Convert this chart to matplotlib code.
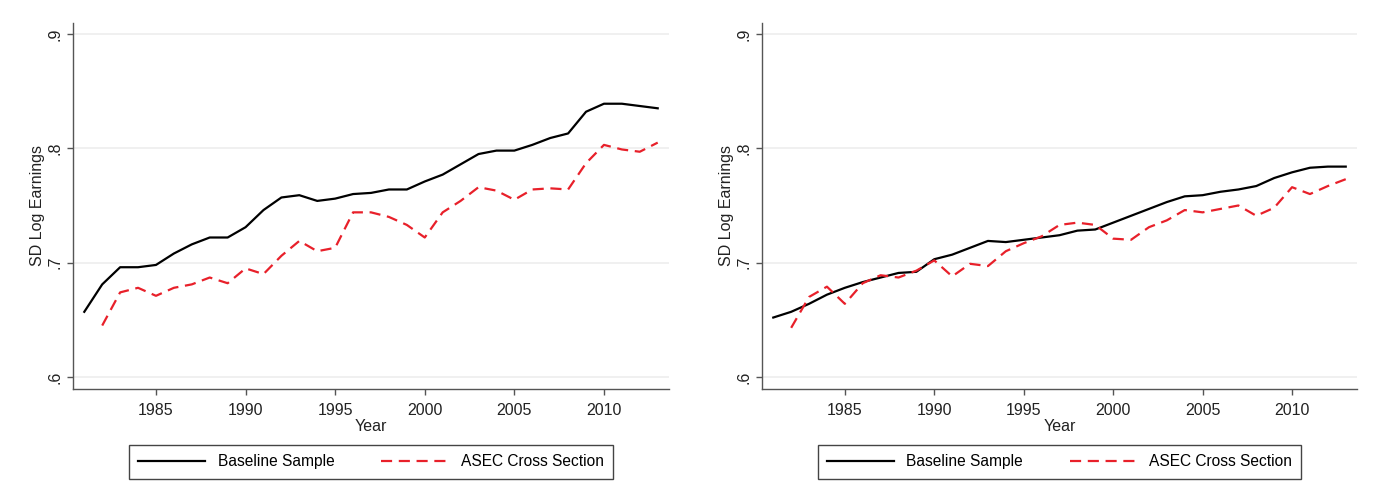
import matplotlib.pyplot as plt
import numpy as np

plt.rcParams['font.family'] = ['Liberation Sans', 'DejaVu Sans']

# years
years_base = list(range(1981, 2014))
years_asec = list(range(1982, 2014))

# left panel
left_base = [0.657, 0.681, 0.696, 0.696, 0.698, 0.708, 0.716, 0.722, 0.722, 0.731,
             0.746, 0.757, 0.759, 0.754, 0.756, 0.760, 0.761, 0.764, 0.764, 0.771,
             0.777, 0.786, 0.795, 0.798, 0.798, 0.803, 0.809, 0.813, 0.832, 0.839,
             0.839, 0.837, 0.835]
left_asec = [0.645, 0.674, 0.678, 0.671, 0.678, 0.681, 0.687, 0.682, 0.695, 0.690,
             0.706, 0.719, 0.710, 0.713, 0.744, 0.744, 0.740, 0.733, 0.722, 0.744,
             0.754, 0.766, 0.763, 0.755, 0.764, 0.765, 0.764, 0.787, 0.803, 0.799,
             0.797, 0.805]

# right panel
right_base = [0.652, 0.657, 0.664, 0.672, 0.678, 0.683, 0.687, 0.691, 0.692, 0.703,
              0.707, 0.713, 0.719, 0.718, 0.720, 0.722, 0.724, 0.728, 0.729, 0.735,
              0.741, 0.747, 0.753, 0.758, 0.759, 0.762, 0.764, 0.767, 0.774, 0.779,
              0.783, 0.784, 0.784]
right_asec = [0.643, 0.670, 0.679, 0.664, 0.682, 0.689, 0.687, 0.693, 0.702, 0.688,
              0.699, 0.697, 0.710, 0.717, 0.723, 0.733, 0.735, 0.733, 0.721, 0.720,
              0.731, 0.737, 0.746, 0.744, 0.747, 0.750, 0.741, 0.748, 0.766, 0.760,
              0.767, 0.773]

xticks = [1985, 1990, 1995, 2000, 2005, 2010]
yticks = [0.6, 0.7, 0.8, 0.9]
ytick_labels = ['.6', '.7', '.8', '.9']

W, H = 1374, 496
fig = plt.figure(figsize=(W / 100, H / 100), dpi=100)

def panel(left_px, right_px, base, asec):
    ax = fig.add_axes([left_px / W, 1 - 389 / H, (right_px - left_px) / W, (389 - 23) / H])
    ax.plot(years_base, base, color='black', lw=1.6, label='Baseline Sample')
    ax.plot(years_asec, asec, color='#e8202a', lw=1.6, dashes=(5, 3), label='ASEC Cross Section')
    ax.set_xlim(1980.37, 2013.63)
    ax.set_ylim(0.5895, 0.9096)
    ax.set_xticks(xticks)
    ax.set_yticks(yticks)
    ax.set_yticklabels(ytick_labels, rotation=90, va='center')
    ax.grid(axis='y', color='#eeeeee', lw=1.2)
    ax.set_axisbelow(True)
    for s in ['top', 'right']:
        ax.spines[s].set_visible(False)
    for s in ['left', 'bottom']:
        ax.spines[s].set_color('#555555')
        ax.spines[s].set_linewidth(1.0)
    ax.tick_params(colors='#555555', labelcolor='#222222', labelsize=11.5, length=4, width=1)
    ax.tick_params(axis='x', pad=6)
    ax.set_xlabel('Year', fontsize=11.5, color='#222222', labelpad=1)
    ax.set_ylabel('SD Log Earnings', fontsize=11.5, color='#222222', labelpad=2)
    leg = ax.legend(loc='upper center', bbox_to_anchor=(0.5, -0.153), ncol=2,
                    fancybox=False, edgecolor='#444444', fontsize=11.2,
                    handlelength=4.3, columnspacing=3.0, borderaxespad=0,
                    borderpad=0.6, framealpha=1)
    leg.get_frame().set_linewidth(1.0)
    return ax

panel(73, 669, left_base, left_asec)
panel(762, 1357, right_base, right_asec)

fig.savefig('out.png', dpi=100)
